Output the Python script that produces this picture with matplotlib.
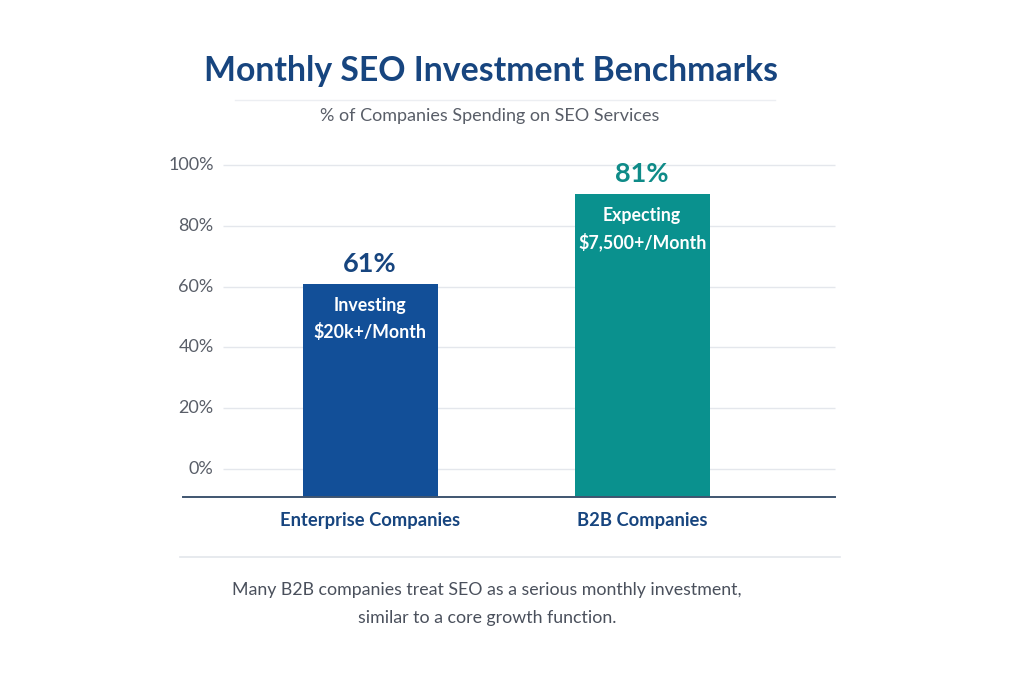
import matplotlib
matplotlib.use("Agg")
import matplotlib.pyplot as plt

# ---- data ----
categories = ["Enterprise Companies", "B2B Companies"]
bar_heights = [61, 90.5]          # drawn bar tops
value_labels = ["61%", "81%"]
inner_labels = ["Investing\n$20k+/Month", "Expecting\n$7,500+/Month"]
ytick_values = [0, 20, 40, 60, 80, 100]
ytick_labels = ["0%", "20%", "40%", "60%", "80%", "100%"]
title = "Monthly SEO Investment Benchmarks"
subtitle = "% of Companies Spending on SEO Services"
footnote = "Many B2B companies treat SEO as a serious monthly investment,\nsimilar to a core growth function."

# ---- style ----
narrow = "Lato"

navy = "#17457f"
teal = "#0f8b88"
bar_colors = ["#124f98", "#0a918e"]
label_colors = [navy, teal]
gray = "#595e68"

W, H = 1024, 683
fig = plt.figure(figsize=(W / 100, H / 100), dpi=100)
fig.patch.set_facecolor("white")

ax_left, ax_right, ax_top, ax_bottom = 183, 838, 150, 497
ax = fig.add_axes([ax_left / W, 1 - ax_bottom / H, (ax_right - ax_left) / W, (ax_bottom - ax_top) / H])
ymin, ymax = -9.2, 104.9
ax.set_ylim(ymin, ymax)
xmin, xmax = -0.6875, 1.72
ax.set_xlim(xmin, xmax)
ax.axis("off")

x = list(range(len(categories)))
ax.hlines(ytick_values, -0.54, 1.71, colors="#e4e7ec", linewidth=1.0, zorder=0)
for v, lab in zip(ytick_values, ytick_labels):
    ax.text(-0.575, v, lab, ha="right", va="center", fontsize=13, color=gray, family=narrow)

bars = ax.bar(x, [h - ymin for h in bar_heights], bottom=ymin, width=0.496,
              color=bar_colors, zorder=2)
ax.plot([xmin, 1.71], [ymin, ymin], color="#3f5570", linewidth=1.4, zorder=3, clip_on=False)

for i, b in enumerate(bars):
    top = bar_heights[i]
    ax.annotate(value_labels[i], (x[i], top), xytext=(0, 14), textcoords="offset points",
                ha="center", va="center", fontsize=19.5, fontweight="bold",
                color=label_colors[i], family=narrow)
    ax.annotate(inner_labels[i], (x[i], top), xytext=(0, -25.5), textcoords="offset points",
                ha="center", va="center", fontsize=12.8, fontweight="bold",
                color="white", family=narrow, linespacing=1.55, zorder=4)
    ax.annotate(categories[i], (x[i], ymin), xytext=(0, -17), textcoords="offset points",
                ha="center", va="center", fontsize=13.2, fontweight="bold",
                color=navy, family=narrow, annotation_clip=False)

fig.text(491 / W, 1 - 71 / H, title, ha="center", va="center", fontsize=24.3,
         fontweight="bold", color=navy, family=narrow)
fig.text(490 / W, 1 - 116 / H, subtitle, ha="center", va="center", fontsize=13,
         color=gray, family=narrow)
fig.add_artist(plt.Line2D([235 / W, 775 / W], [1 - 100 / H] * 2, color="#eceef2", linewidth=1.0))
fig.add_artist(plt.Line2D([180 / W, 840 / W], [1 - 557 / H] * 2, color="#e3e6eb", linewidth=1.2))
fig.text(487 / W, 1 - 604 / H, footnote, ha="center", va="center", fontsize=12.8,
         color="#4a505c", family=narrow, linespacing=1.95)

fig.savefig("out.png", dpi=100, facecolor="white")
